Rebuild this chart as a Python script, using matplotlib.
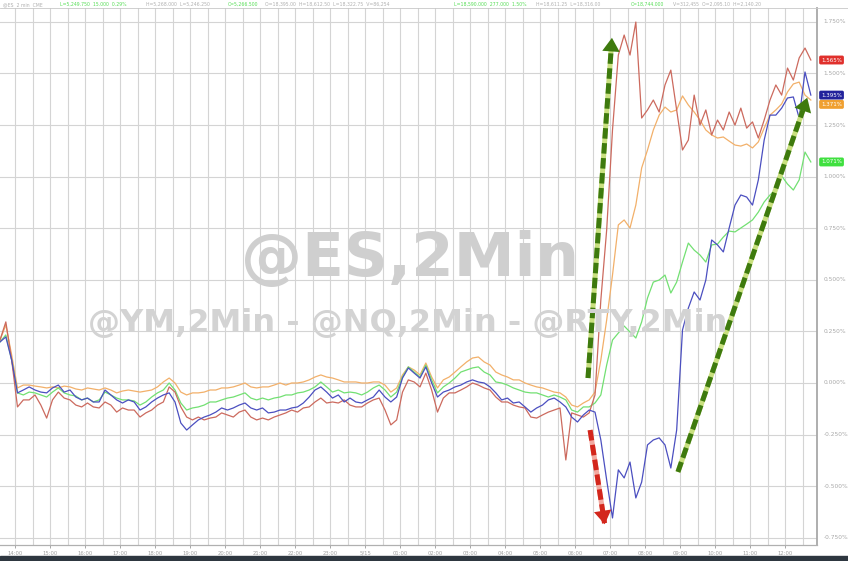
import numpy as np
import matplotlib.pyplot as plt
from matplotlib.transforms import blended_transform_factory

# % change, one reading every 10 minutes from 13:34
red_pct = [0.208, 0.296, 0.111, -0.116, -0.082, -0.082, -0.058, -0.107, -0.170, -0.082,
           -0.044, -0.073, -0.082, -0.107, -0.116, -0.097, -0.116, -0.121, -0.092, -0.107,
           -0.141, -0.121, -0.131, -0.131, -0.165, -0.145, -0.131, -0.107, -0.092, -0.019,
           -0.044, -0.116, -0.165, -0.179, -0.165, -0.179, -0.170, -0.165, -0.145, -0.155,
           -0.165, -0.141, -0.131, -0.165, -0.179, -0.170, -0.179, -0.165, -0.155, -0.145,
           -0.131, -0.141, -0.121, -0.116, -0.092, -0.073, -0.097, -0.092, -0.097, -0.082,
           -0.107, -0.116, -0.116, -0.097, -0.082, -0.073, -0.131, -0.203, -0.179, -0.044,
           0.015, 0.005, -0.019, 0.048, -0.034, -0.141, -0.073, -0.048, -0.048, -0.034,
           -0.019, 0.000, -0.010, -0.024, -0.034, -0.068, -0.092, -0.092, -0.107, -0.116,
           -0.121, -0.165, -0.170, -0.155, -0.141, -0.131, -0.121, -0.373, -0.145, -0.155,
           -0.165, -0.145, -0.058, 0.402, 0.741, 1.226, 1.589, 1.686, 1.589, 1.749,
           1.284, 1.323, 1.371, 1.313, 1.444, 1.516, 1.323, 1.129, 1.177, 1.395,
           1.250, 1.323, 1.202, 1.274, 1.226, 1.313, 1.250, 1.332, 1.235, 1.265,
           1.187, 1.274, 1.371, 1.444, 1.395, 1.526, 1.468, 1.575, 1.623, 1.565]

orange_pct = [0.208, 0.281, 0.136, -0.024, -0.010, -0.010, -0.015, -0.019, -0.024, -0.019,
              -0.024, -0.015, -0.019, -0.029, -0.034, -0.024, -0.029, -0.034, -0.024, -0.034,
              -0.048, -0.039, -0.034, -0.039, -0.044, -0.039, -0.034, -0.019, 0.005, 0.024,
              0.000, -0.044, -0.058, -0.048, -0.048, -0.044, -0.034, -0.034, -0.024, -0.024,
              -0.019, -0.010, 0.000, -0.019, -0.024, -0.019, -0.019, -0.010, 0.000, -0.010,
              0.000, 0.000, 0.005, 0.015, 0.029, 0.039, 0.029, 0.024, 0.015, 0.005,
              0.005, 0.005, 0.000, 0.000, 0.005, 0.005, -0.010, -0.044, -0.024, 0.039,
              0.078, 0.063, 0.039, 0.097, 0.029, -0.024, 0.015, 0.029, 0.053, 0.078,
              0.102, 0.121, 0.126, 0.102, 0.087, 0.053, 0.039, 0.029, 0.015, 0.015,
              0.000, -0.010, -0.019, -0.024, -0.034, -0.044, -0.048, -0.068, -0.107, -0.116,
              -0.097, -0.082, -0.044, 0.111, 0.305, 0.523, 0.766, 0.790, 0.751, 0.862,
              1.042, 1.129, 1.226, 1.298, 1.337, 1.313, 1.323, 1.391, 1.347, 1.313,
              1.274, 1.226, 1.202, 1.187, 1.192, 1.172, 1.153, 1.148, 1.158, 1.139,
              1.168, 1.235, 1.298, 1.323, 1.352, 1.410, 1.449, 1.458, 1.395, 1.371]

blue_pct = [0.199, 0.223, 0.111, -0.048, -0.034, -0.019, -0.034, -0.044, -0.048, -0.024,
            -0.010, -0.044, -0.034, -0.068, -0.082, -0.073, -0.092, -0.092, -0.034, -0.058,
            -0.082, -0.097, -0.082, -0.092, -0.131, -0.116, -0.092, -0.073, -0.058, -0.048,
            -0.092, -0.194, -0.228, -0.203, -0.179, -0.165, -0.155, -0.141, -0.121, -0.131,
            -0.121, -0.107, -0.097, -0.121, -0.131, -0.121, -0.145, -0.141, -0.131, -0.131,
            -0.121, -0.116, -0.097, -0.068, -0.034, -0.019, -0.044, -0.073, -0.058, -0.092,
            -0.073, -0.092, -0.097, -0.082, -0.068, -0.034, -0.068, -0.092, -0.068, 0.024,
            0.073, 0.048, 0.024, 0.078, 0.000, -0.068, -0.044, -0.034, -0.019, -0.010,
            0.005, 0.015, 0.005, 0.000, -0.019, -0.048, -0.082, -0.073, -0.097, -0.092,
            -0.116, -0.141, -0.121, -0.107, -0.082, -0.073, -0.092, -0.116, -0.165, -0.189,
            -0.155, -0.131, -0.141, -0.276, -0.470, -0.654, -0.421, -0.460, -0.383, -0.557,
            -0.480, -0.300, -0.276, -0.266, -0.300, -0.412, -0.228, 0.257, 0.363, 0.441,
            0.402, 0.499, 0.693, 0.669, 0.635, 0.751, 0.862, 0.911, 0.901, 0.862,
            0.984, 1.177, 1.298, 1.298, 1.332, 1.381, 1.386, 1.284, 1.507, 1.395]

green_pct = [0.199, 0.233, 0.111, -0.048, -0.058, -0.044, -0.048, -0.058, -0.068, -0.044,
             -0.024, -0.048, -0.058, -0.063, -0.082, -0.073, -0.092, -0.082, -0.044, -0.058,
             -0.073, -0.082, -0.082, -0.087, -0.107, -0.092, -0.068, -0.048, -0.034, 0.000,
             -0.034, -0.097, -0.131, -0.121, -0.116, -0.107, -0.092, -0.092, -0.082, -0.073,
             -0.068, -0.058, -0.048, -0.073, -0.082, -0.073, -0.082, -0.073, -0.068, -0.058,
             -0.058, -0.048, -0.044, -0.034, -0.019, 0.005, -0.019, -0.044, -0.034, -0.048,
             -0.044, -0.048, -0.058, -0.044, -0.024, -0.010, -0.034, -0.068, -0.044, 0.029,
             0.078, 0.053, 0.029, 0.087, 0.015, -0.048, -0.019, 0.000, 0.024, 0.053,
             0.063, 0.073, 0.078, 0.053, 0.039, 0.005, 0.000, -0.010, -0.024, -0.034,
             -0.044, -0.048, -0.048, -0.058, -0.068, -0.058, -0.068, -0.082, -0.131, -0.141,
             -0.116, -0.116, -0.097, -0.058, 0.087, 0.208, 0.242, 0.276, 0.247, 0.218,
             0.296, 0.412, 0.489, 0.499, 0.523, 0.436, 0.489, 0.586, 0.678, 0.644,
             0.620, 0.586, 0.669, 0.673, 0.707, 0.736, 0.732, 0.751, 0.770, 0.790,
             0.828, 0.877, 0.911, 0.935, 1.003, 0.964, 0.935, 0.984, 1.119, 1.071]

series_colors = {'red': '#cc6a5e', 'orange': '#f2b06a', 'blue': '#4b4fc0', 'green': '#72e072'}
tag_colors = {'red': '#e0302c', 'orange': '#f0a030', 'blue': '#22229c', 'green': '#3fe03f'}

y_ticks = [-0.75, -0.5, -0.25, 0.0, 0.25, 0.5, 0.75, 1.0, 1.25, 1.5, 1.75]
x_labels = ['14:00', '15:00', '16:00', '17:00', '18:00', '19:00', '20:00', '21:00', '22:00',
            '23:00', '5/15', '01:00', '02:00', '03:00', '04:00', '05:00', '06:00', '07:00',
            '08:00', '09:00', '10:00', '11:00', '12:00']
first_hour = 26 / 60  # hours from first bar to 14:00

# hand-drawn arrows, (hours, %) start -> end
green_arrow_1 = [(16.80, 0.024), (17.49, 1.686)]
red_arrow = [(16.86, -0.228), (17.29, -0.698)]
green_arrow_2 = [(19.37, -0.431), (23.09, 1.395)]

t = np.arange(len(red_pct)) / 6

fig = plt.figure(figsize=(8.48, 5.61), dpi=100, facecolor='white')
ax = fig.add_axes([0, 16 / 561, 817 / 848, 537 / 561])
ax.set_facecolor('white')
ax.set_xlim(0, 817 / 35)
ax.set_ylim(-0.785, 1.817)

# grid
for v in y_ticks:
    ax.axhline(v, color='#d4d4d4', lw=0.8, zorder=0)
for h in np.arange(first_hour, 24, 0.5):
    ax.axvline(h, color='#d4d4d4', lw=0.8, zorder=0)

# watermark
fig.text(0.483, 0.537, '@ES,2Min', fontsize=44, fontweight='bold', color='#cfcfcf',
         ha='center', va='center', zorder=1)
fig.text(0.481, 0.423, '@YM,2Min - @NQ,2Min - @RTY,2Min', fontsize=23, fontweight='bold',
         color='#d3d3d3', ha='center', va='center', zorder=1)

series = {'orange': orange_pct, 'green': green_pct, 'red': red_pct, 'blue': blue_pct}
for name, vals in series.items():
    ax.plot(t, vals, color=series_colors[name], lw=0.9, zorder=3)


def dashed_arrow(pts, dark, light):
    (x0, y0), (x1, y1) = pts
    ax.plot([x0, x1 - 0.04 * (x1 - x0)], [y0, y1 - 0.04 * (y1 - y0)], color=light, lw=3.6,
            solid_capstyle='butt', zorder=5)
    ax.plot([x0, x1 - 0.04 * (x1 - x0)], [y0, y1 - 0.04 * (y1 - y0)], color=dark, lw=3.6,
            dashes=(2.1, 0.9), dash_capstyle='butt', zorder=6)
    ax.annotate('', xy=(x1, y1), xytext=(x1 - 0.08 * (x1 - x0), y1 - 0.08 * (y1 - y0)),
                arrowprops=dict(arrowstyle='-|>,head_length=0.7,head_width=0.45', color=dark,
                                lw=0, mutation_scale=14), zorder=7)


dashed_arrow(green_arrow_1, '#3e7a0e', '#c9e07f')
dashed_arrow(red_arrow, '#d3261c', '#f2a9a0')
dashed_arrow(green_arrow_2, '#3e7a0e', '#c9e07f')

# right axis labels
tr = blended_transform_factory(ax.transAxes, ax.transData)
for v in y_ticks:
    ax.text(1.008, v, f'{v:.3f}%', transform=tr, fontsize=4.2, color='#a8a8a8',
            va='center', ha='left', clip_on=False)

# last-value tags, pushed apart when they overlap
last = sorted(((vals[-1], name) for name, vals in series.items()), reverse=True)
tag_y = []
for v, name in last:
    y = v
    if tag_y and tag_y[-1] - y < 0.045:
        y = tag_y[-1] - 0.045
    tag_y.append(y)
for (v, name), y in zip(last, tag_y):
    ax.text(1.005, y, f'{v:.3f}%', transform=tr, fontsize=4, color='white', va='center',
            ha='left', clip_on=False, zorder=8,
            bbox=dict(boxstyle='round,pad=0.35,rounding_size=0.3', fc=tag_colors[name],
                      ec='none'))

# x axis
ax.set_xticks(first_hour + np.arange(len(x_labels)))
ax.set_xticklabels(x_labels, fontsize=3.8, color='#a0a0a0')
ax.tick_params(axis='x', length=2, width=0.6, color='#999999', pad=2)
ax.tick_params(axis='y', left=False, labelleft=False)
for s in ['left', 'top']:
    ax.spines[s].set_visible(False)
ax.spines['right'].set_color('#a8a8a8')
ax.spines['right'].set_linewidth(1.3)
ax.spines['bottom'].set_color('#b0b0b0')
ax.spines['bottom'].set_linewidth(0.9)

# header strip
header = [(0.003, '@ES  2 min  CME', '#b0b0b0'),
          (0.071, 'L=5,249.750  15.000  0.29%', '#55dd55'),
          (0.172, 'H=5,268.000  L=5,246.250', '#b0b0b0'),
          (0.269, 'C=5,266.500', '#55dd55'),
          (0.312, 'O=18,395.00  H=18,612.50  L=18,322.75  V=86,254', '#b0b0b0'),
          (0.535, 'L=18,590.000  277.000  1.50%', '#55dd55'),
          (0.632, 'H=18,611.25  L=18,316.00', '#b0b0b0'),
          (0.744, 'C=18,744.000', '#55dd55'),
          (0.794, 'V=312,455  O=2,095.10  H=2,140.20', '#b0b0b0')]
for x, s, c in header:
    fig.text(x, 1 - 4.5 / 561, s, fontsize=3.3, color=c, va='center', ha='left')
fig.add_artist(plt.Line2D([0, 1], [1 - 8 / 561, 1 - 8 / 561], color='#c8c8c8', lw=0.6))

# dark footer band
fig.patches.append(plt.Rectangle((0, 0), 1, 5 / 561, transform=fig.transFigure,
                                 color='#2e3740', zorder=0))

fig.savefig('out.png', dpi=100, facecolor='white')
